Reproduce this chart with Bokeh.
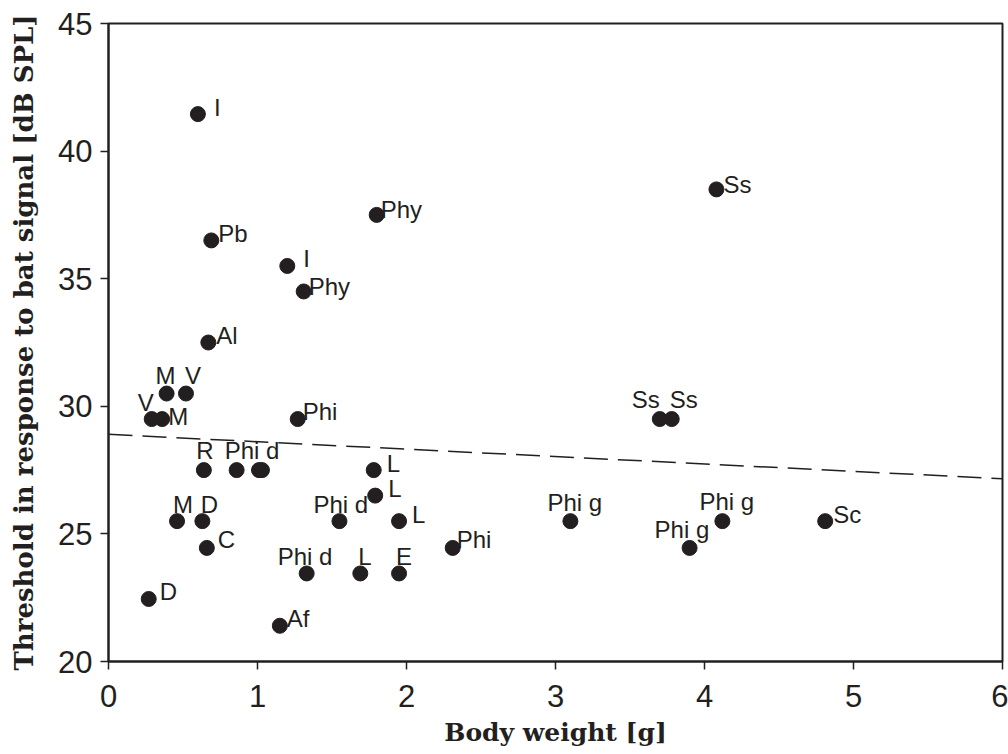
from bokeh.plotting import figure
from bokeh.models import Range1d, FixedTicker, ColumnDataSource
from bokeh.embed import file_html
from bokeh.resources import INLINE
from bokeh.core.properties import value

# ---- data ----
body_weight = [0.60, 0.69, 1.20, 1.80, 1.31, 0.67, 0.39, 0.52, 0.29, 0.36,
               1.27, 3.70, 3.78, 4.08, 0.64, 0.86, 1.01, 1.03, 1.78, 1.79,
               0.46, 0.63, 0.66, 1.55, 1.95, 2.31, 1.33, 1.69, 1.95, 0.27,
               1.15, 3.10, 3.90, 4.12, 4.81]
threshold = [41.45, 36.5, 35.5, 37.5, 34.5, 32.5, 30.5, 30.5, 29.5, 29.5,
             29.5, 29.5, 29.5, 38.5, 27.5, 27.5, 27.5, 27.5, 27.5, 26.5,
             25.5, 25.5, 24.45, 25.5, 25.5, 24.45, 23.45, 23.45, 23.45, 22.45,
             21.4, 25.5, 24.45, 25.5, 25.5]
species = ["I", "Pb", "I", "Phy", "Phy", "Al", "M", "V", "V", "M",
           "Phi", "Ss", "Ss", "Ss", "R", "Phi d", "", "", "L", "L",
           "M", "D", "C", "Phi d", "L", "Phi", "Phi d", "L", "E", "D",
           "Af", "Phi g", "Phi g", "Phi g", "Sc"]

# regression line
fit_intercept = 28.9
fit_slope = -0.29
fit_x = [0, 6]

x_ticks = [0, 1, 2, 3, 4, 5, 6]
y_ticks = [20, 25, 30, 35, 40, 45]

# ---- label layout (screen-pixel offsets from each dot; not data) ----
label_align = ["left", "left", "left", "left", "left", "left", "center", "center", "center", "left",
               "left", "right", "left", "left", "center", "left", "left", "left", "left", "left",
               "center", "center", "left", "left", "left", "left", "left", "left", "left", "left",
               "left", "left", "left", "left", "left"]
label_dx = [16, 7, 16, 4, 5, 8, -1, 7, -6, 6,
            5, 0, -2, 7, 1, -12, 0, 0, 13, 13,
            6, 7, 11, -26, 13, 4, -29, -2, -3, 11,
            7, -23, -35, -23, 8]
label_dy = [-7, -7, -7, -5, -5, -7, -18, -18, -17, -3,
            -8, -20, -20, -5, -20, -20, 0, 0, -7, -7,
            -17, -17, -8, -17, -7, -8, -17, -17, -17, -7,
            -7, -19, -18, -20, -7]

INK = "#231f20"

p = figure(width=1008, height=754,
           x_range=Range1d(0, 6), y_range=Range1d(20, 45),
           output_backend="svg", toolbar_location=None,
           min_border_left=108, min_border_right=6,
           min_border_top=23, min_border_bottom=93)

p.xgrid.visible = False
p.ygrid.visible = False
p.outline_line_color = INK
p.outline_line_width = 2
p.background_fill_color = "white"
p.border_fill_color = "white"

for ax in (p.xaxis[0], p.yaxis[0]):
    ax.axis_line_width = 2
    ax.axis_line_color = INK
    ax.major_tick_out = 8
    ax.major_tick_in = 0
    ax.major_tick_line_width = 1.5
    ax.major_tick_line_color = INK
    ax.minor_tick_line_color = None
    ax.major_label_text_font = "Liberation Sans"
    ax.major_label_text_font_size = "31px"
    ax.major_label_text_color = INK
    ax.axis_label_text_font = "DejaVu Serif"
    ax.axis_label_text_font_style = "bold"
    ax.axis_label_text_color = INK

p.xaxis.axis_label_text_font_size = "25px"
p.yaxis.axis_label_text_font_size = "26px"
p.xaxis.ticker = FixedTicker(ticks=x_ticks)
p.yaxis.ticker = FixedTicker(ticks=y_ticks)
p.xaxis.major_label_standoff = 15
p.yaxis.major_label_standoff = 8
p.xaxis.axis_label_standoff = 8
p.yaxis.axis_label_standoff = 16
p.xaxis.axis_label = "Body weight [g]"
p.yaxis.axis_label = "Threshold in response to bat signal [dB SPL]"

# regression line
fit_y = [fit_intercept + fit_slope * xv for xv in fit_x]
p.line(fit_x, fit_y, line_color=INK, line_width=1.5, line_dash="24 10")

# points
p.scatter(body_weight, threshold, size=15, marker="circle",
          fill_color=INK, line_color=INK)

# labels, grouped by alignment
for al in ("left", "center", "right"):
    idx = [i for i, a in enumerate(label_align) if a == al and species[i]]
    src = ColumnDataSource(dict(
        x=[body_weight[i] for i in idx],
        y=[threshold[i] for i in idx],
        t=[species[i] for i in idx],
        dx=[label_dx[i] for i in idx],
        dy=[label_dy[i] for i in idx],
    ))
    p.text(x="x", y="y", text="t", x_offset="dx", y_offset="dy", source=src,
           text_font=value("Liberation Sans"), text_font_size="24px",
           text_color=INK, text_align=al, text_baseline="alphabetic")

open("out.html", "w").write(file_html(p, INLINE))
